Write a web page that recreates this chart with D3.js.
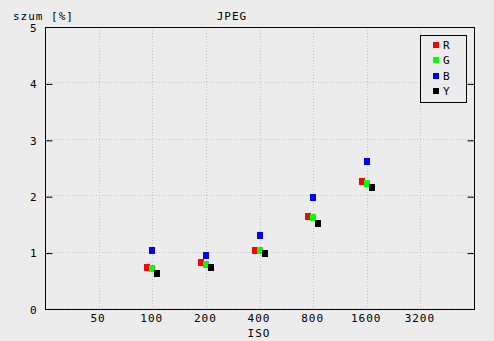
<!DOCTYPE html>
<html>
<head>
<meta charset="utf-8">
<script src="https://cdn.jsdelivr.net/npm/d3@7"></script>
<style>
  html, body { margin: 0; padding: 0; background: #ececec; }
  svg { display: block; }
  text { font-family: "DejaVu Sans Mono", "Liberation Mono", monospace; font-size: 11px; letter-spacing: 1px; fill: #000; }
</style>
</head>
<body>
<svg id="chart" width="494" height="341"></svg>
<script>
// ISO sensitivities measured
const isoValues = [100, 200, 400, 800, 1600];
// Noise level per channel, in percent
const noiseR = [0.74, 0.82, 1.04, 1.64, 2.26];
const noiseG = [0.72, 0.79, 1.04, 1.62, 2.23];
const noiseB = [1.04, 0.95, 1.30, 1.98, 2.62];
const noiseY = [0.63, 0.74, 0.98, 1.52, 2.15];
// Axis ticks
const xTicks = [50, 100, 200, 400, 800, 1600, 3200];
const yTicks = [0, 1, 2, 3, 4, 5];
const seriesNames = ["R", "G", "B", "Y"];
const seriesColors = ["#ff0000", "#00ff00", "#0000ff", "#000000"];
const seriesDodge = [-5, 0, 0, 5];

const series = [noiseR, noiseG, noiseB, noiseY];

const svg = d3.select("#chart");
const plotL = 45, plotR = 474, plotT = 27, plotB = 309;

const x = d3.scaleLog().base(2).domain([25, 6400]).range([plotL, plotR]);
const y = d3.scaleLinear().domain([0, 5]).range([plotB, plotT]);

// dotted grid
const grid = svg.append("g").attr("stroke", "#c4c4c4").attr("stroke-dasharray", "1,2").attr("fill", "none");
grid.selectAll("line.v").data(xTicks).join("line")
  .attr("x1", d => Math.round(x(d)) + 0.5).attr("x2", d => Math.round(x(d)) + 0.5)
  .attr("y1", plotT).attr("y2", plotB);
grid.selectAll("line.h").data(yTicks.slice(0, -1)).join("line")
  .attr("x1", plotL).attr("x2", plotR)
  .attr("y1", d => Math.round(y(d)) - 0.5).attr("y2", d => Math.round(y(d)) - 0.5);

// frame
svg.append("rect")
  .attr("x", plotL + 0.5).attr("y", plotT + 0.5)
  .attr("width", plotR - plotL).attr("height", plotB - plotT)
  .attr("fill", "none").attr("stroke", "#000").attr("stroke-width", 1);

// y axis on the left, with mirrored ticks on the right
const yAxisL = d3.axisLeft(y).tickValues(yTicks).tickSize(-7).tickPadding(15).tickFormat(d3.format("d"));
const gy = svg.append("g").attr("transform", `translate(${plotL + 0.5},0.5)`).call(yAxisL);
gy.select(".domain").remove();
gy.selectAll(".tick line").attr("stroke", "#000").filter(d => d === 0 || d === 5).remove();
gy.selectAll(".tick text").attr("font-family", null).attr("font-size", null).attr("dy", "0.35em").attr("x", -8);

const yAxisR = d3.axisRight(y).tickValues(yTicks.slice(1, -1)).tickSize(-7).tickFormat("");
const gyr = svg.append("g").attr("transform", `translate(${plotR + 0.5},0.5)`).call(yAxisR);
gyr.select(".domain").remove();
gyr.selectAll(".tick line").attr("stroke", "#000");

// x axis labels
const xAxis = d3.axisBottom(x).tickValues(xTicks).tickSize(0).tickPadding(0).tickFormat(d3.format("d"));
const gx = svg.append("g").attr("transform", `translate(-1,${plotB})`).call(xAxis);
gx.select(".domain").remove();
gx.selectAll(".tick text").attr("font-family", null).attr("font-size", null).attr("dy", null).attr("y", 13);

// titles
svg.append("text").attr("x", 13).attr("y", 20).text("szum [%]");
svg.append("text").attr("x", 232).attr("y", 20).attr("text-anchor", "middle").text("JPEG");
svg.append("text").attr("x", 259).attr("y", 337).attr("text-anchor", "middle").text("ISO");

// points
const mw = 6, mh = 7;
series.forEach((vals, si) => {
  svg.append("g").selectAll("rect").data(vals).join("rect")
    .attr("x", (d, i) => Math.round(x(isoValues[i]) + seriesDodge[si] - mw / 2))
    .attr("y", d => Math.round(y(d) - mh / 2))
    .attr("width", mw).attr("height", mh)
    .attr("fill", seriesColors[si]);
});

// legend
const lg = svg.append("g");
lg.append("rect").attr("x", 420.5).attr("y", 35.5).attr("width", 46).attr("height", 67)
  .attr("fill", "#ececec").attr("stroke", "#000");
seriesNames.forEach((name, i) => {
  const cy = 44.5 + i * 15.5;
  lg.append("rect").attr("x", 433).attr("y", Math.round(cy - 3)).attr("width", 6).attr("height", 6).attr("fill", seriesColors[i]);
  lg.append("text").attr("x", 443).attr("y", Math.round(cy) + 4).text(name);
});
</script>
</body>
</html>
